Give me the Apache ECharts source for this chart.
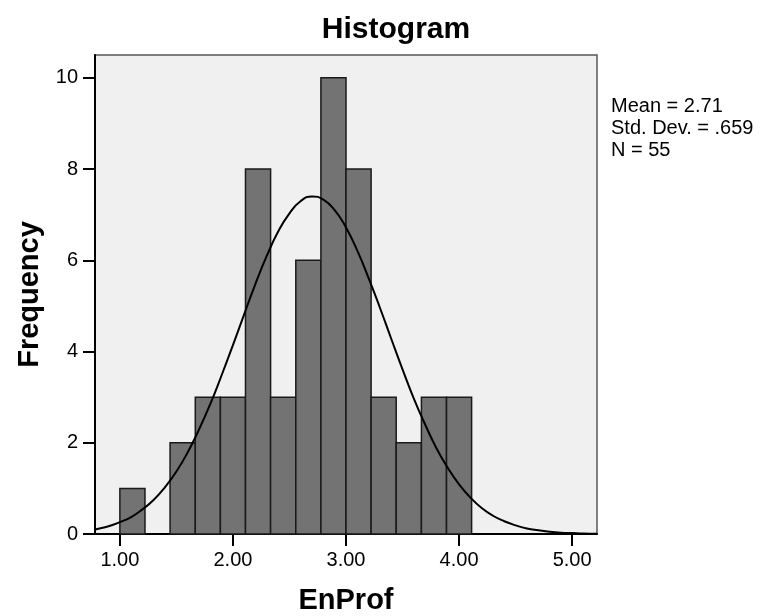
<!DOCTYPE html>
<html>
<head>
<meta charset="utf-8">
<script src="https://cdn.jsdelivr.net/npm/echarts@6/dist/echarts.min.js"></script>
<style>html,body{margin:0;padding:0;background:#fff}#c{width:767px;height:616px}</style>
</head>
<body>
<div id="c"></div>
<script>
// Histogram bins (EnProf) and frequencies
var binEdges = [1.000, 1.222, 1.444, 1.667, 1.889, 2.111, 2.333, 2.556, 2.778, 3.000, 3.222, 3.444, 3.667, 3.889, 4.111];
var counts = [1, 0, 2, 3, 3, 8, 3, 6, 10, 8, 3, 2, 3, 3];
// Normal curve
var curveX = [0.78, 0.8, 0.9, 1.0, 1.1, 1.2, 1.3, 1.4, 1.5, 1.6, 1.7, 1.8, 1.9, 2.0, 2.1, 2.2, 2.3, 2.4, 2.5, 2.6, 2.7, 2.8, 2.9, 3.0, 3.1, 3.2, 3.3, 3.4, 3.5, 3.6, 3.7, 3.8, 3.9, 4.0, 4.1, 4.2, 4.3, 4.4, 4.5, 4.6, 4.7, 4.8, 4.9, 5.0, 5.1, 5.2, 5.22];
var curveY = [0.10, 0.11, 0.17, 0.26, 0.37, 0.54, 0.75, 1.03, 1.37, 1.79, 2.29, 2.85, 3.48, 4.14, 4.82, 5.49, 6.10, 6.63, 7.03, 7.30, 7.40, 7.33, 7.10, 6.72, 6.21, 5.61, 4.96, 4.28, 3.61, 2.97, 2.40, 1.88, 1.45, 1.09, 0.80, 0.57, 0.40, 0.28, 0.19, 0.12, 0.08, 0.05, 0.03, 0.02, 0.01, 0.006, 0.005];
var xTicks = [1, 2, 3, 4, 5];
var yTicks = [0, 2, 4, 6, 8, 10];
var titleText = 'Histogram';
var xName = 'EnProf';
var yName = 'Frequency';
var statsLines = ['Mean = 2.71', 'Std. Dev. = .659', 'N = 55'];

var FONT = "'Liberation Sans', Arial, sans-serif";
var barData = counts.map(function (c, i) { return [binEdges[i], binEdges[i + 1], c]; });
var lineData = curveX.map(function (x, i) { return [x, curveY[i]]; });

var chart = echarts.init(document.getElementById('c'), null, {renderer: 'canvas'});
chart.setOption({
  animation: false,
  backgroundColor: '#ffffff',
  grid: {left: 95, right: 170, top: 55, bottom: 82, containLabel: false, outerBoundsMode: 'none', show: true, backgroundColor: '#f0f0f0', borderColor: '#555', borderWidth: 1.5},
  graphic: [
    {type: 'text', x: 396, y: 30, style: {text: titleText, fontFamily: FONT, fontSize: 30, fontWeight: 'bold', fill: '#000', align: 'center', verticalAlign: 'middle', textAlign: 'center', textVerticalAlign: 'middle'}},
    {type: 'text', x: 611, y: 95, style: {text: statsLines.join('\n'), fontFamily: FONT, fontSize: 20, lineHeight: 22, fill: '#000', align: 'left', verticalAlign: 'top'}}
  ],
  xAxis: {
    type: 'value', min: 0.78, max: 5.22,
    name: xName, nameLocation: 'middle', nameGap: 52,
    nameTextStyle: {fontFamily: FONT, fontSize: 29, fontWeight: 'bold', color: '#000'},
    axisLine: {show: true, onZero: false, lineStyle: {color: '#000', width: 2}},
    axisTick: {show: true, length: 12, customValues: xTicks, lineStyle: {color: '#000', width: 2}},
    axisLabel: {customValues: xTicks, margin: 16, fontFamily: FONT, fontSize: 20, color: '#000', formatter: function (v) { return v.toFixed(2); }},
    splitLine: {show: false}
  },
  yAxis: {
    type: 'value', min: 0, max: 10.5,
    name: yName, nameLocation: 'middle', nameGap: 48,
    nameTextStyle: {fontFamily: FONT, fontSize: 29, fontWeight: 'bold', color: '#000'},
    axisLine: {show: true, lineStyle: {color: '#000', width: 2}},
    axisTick: {show: true, length: 12, customValues: yTicks, lineStyle: {color: '#000', width: 2}},
    axisLabel: {customValues: yTicks, margin: 17, fontFamily: FONT, fontSize: 20, color: '#000'},
    splitLine: {show: false}
  },
  series: [
    {
      type: 'custom',
      data: barData,
      encode: {x: [0, 1], y: 2},
      renderItem: function (params, api) {
        if (api.value(2) <= 0) return null;
        var p0 = api.coord([api.value(0), api.value(2)]);
        var p1 = api.coord([api.value(1), 0]);
        return {
          type: 'rect',
          shape: {x: p0[0], y: p0[1], width: p1[0] - p0[0], height: p1[1] - p0[1]},
          style: {fill: '#737373', stroke: '#1a1a1a', lineWidth: 1.5}
        };
      },
      z: 2
    },
    {
      type: 'line',
      data: lineData,
      smooth: true,
      showSymbol: false,
      clip: true,
      lineStyle: {color: '#000', width: 2},
      z: 3
    }
  ]
});
</script>
</body>
</html>
